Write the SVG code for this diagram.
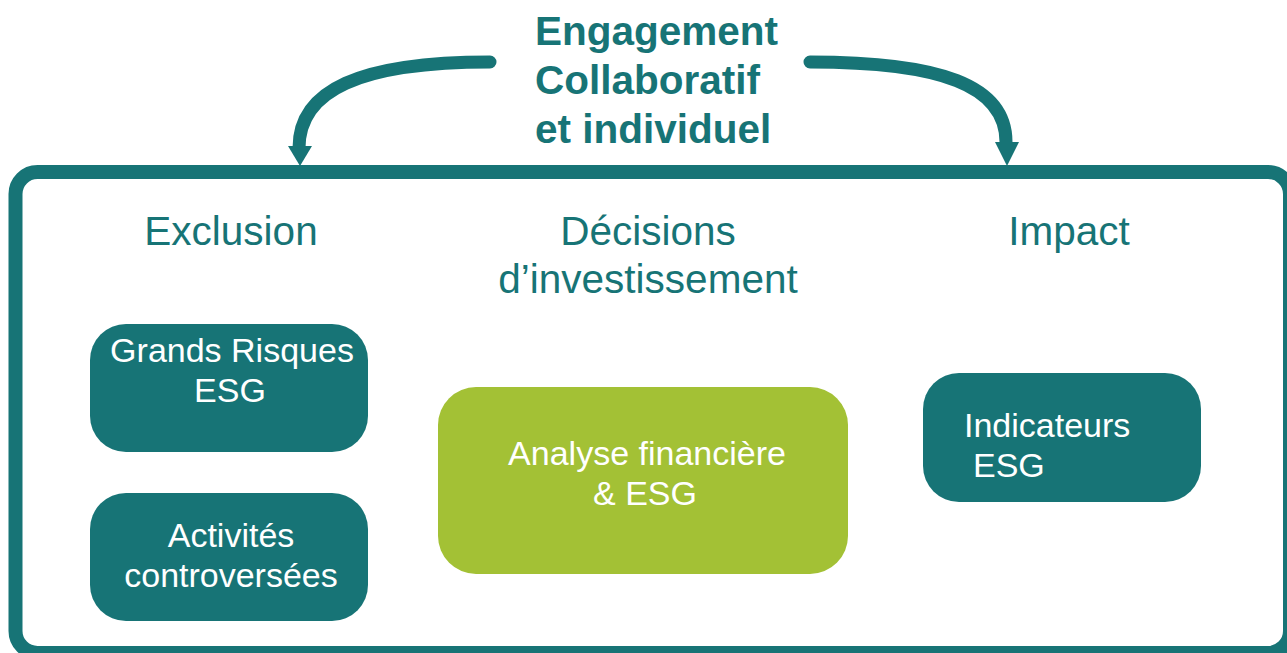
<svg xmlns="http://www.w3.org/2000/svg" width="1287" height="653" viewBox="0 0 1287 653">
<style>
.frame{fill:none;stroke:#177476;stroke-width:14}
.conn{fill:none;stroke:#177476;stroke-width:13;stroke-linecap:round}
.head{fill:#177476}
.box{fill:#177476}
.gbox{fill:#A3C135}
.t{font-family:"Liberation Sans",Arial,sans-serif}
.title{font-weight:bold;font-size:40.5px;fill:#177476}
.hdr{font-size:40.5px;fill:#177476;text-anchor:middle}
.lbl{font-size:34px;fill:#ffffff;text-anchor:middle}
</style>
<rect id="frame" class="frame" x="15.5" y="172" width="1274.5" height="481" rx="22"/>
<g id="connectors">
<path class="conn" d="M 490 62 C 360 62, 299 90, 299 148"/>
<polygon class="head" points="288,146 312,146 300,166"/>
<path class="conn" d="M 810 62 C 940 62, 1006 85, 1006 142"/>
<polygon class="head" points="995,142 1019,142 1007,166"/>
</g>
<g id="engagement">
<text class="t title" x="535" y="45">Engagement</text>
<text class="t title" x="535" y="94">Collaboratif</text>
<text class="t title" x="535" y="143">et individuel</text>
</g>
<g id="exclusion"><text class="t hdr" x="231" y="245">Exclusion</text></g>
<g id="decisions"><text class="t hdr" x="648" y="245">Décisions</text><text class="t hdr" x="648" y="293">d’investissement</text></g>
<g id="impact"><text class="t hdr" x="1069" y="245">Impact</text></g>
<g id="grands-risques">
<rect class="box" x="90" y="324" width="278" height="128" rx="36"/>
<text class="t lbl" x="232" y="362">Grands Risques</text>
<text class="t lbl" x="230" y="402">ESG</text>
</g>
<g id="activites">
<rect class="box" x="90" y="493" width="278" height="128" rx="36"/>
<text class="t lbl" x="231" y="547">Activités</text>
<text class="t lbl" x="231" y="587">controversées</text>
</g>
<g id="analyse">
<rect class="gbox" x="438" y="387" width="410" height="187" rx="38"/>
<text class="t lbl" x="647" y="465">Analyse financière</text>
<text class="t lbl" x="645" y="505">&amp; ESG</text>
</g>
<g id="indicateurs">
<rect class="box" x="923" y="373" width="278" height="129" rx="36"/>
<text class="t lbl" x="964" y="437" style="text-anchor:start">Indicateurs</text>
<text class="t lbl" x="973" y="477" style="text-anchor:start">ESG</text>
</g>
</svg>
